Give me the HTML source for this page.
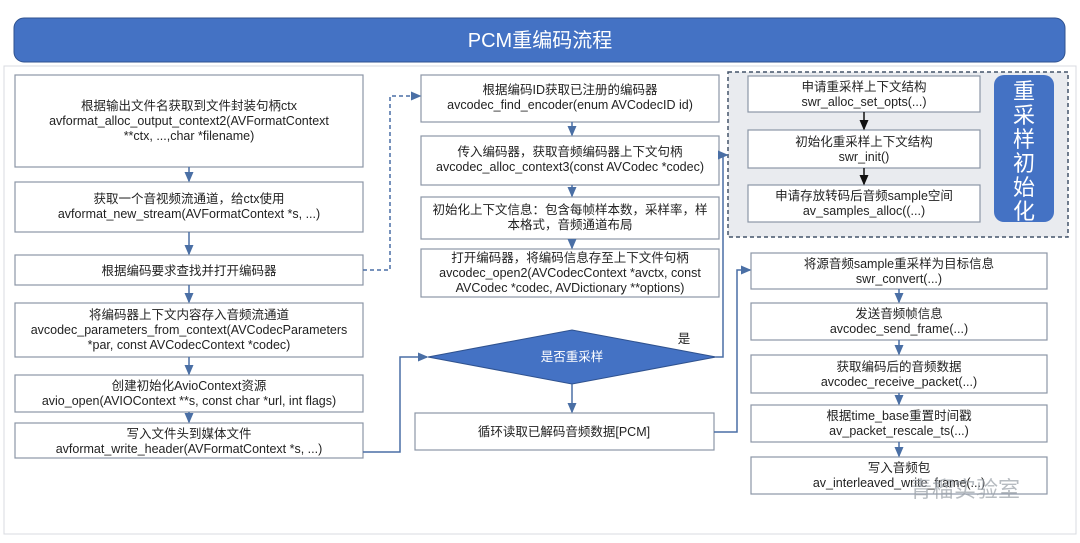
<!DOCTYPE html>
<html><head><meta charset="utf-8"><style>
body{margin:0;background:#fff;width:1080px;height:538px;overflow:hidden}
svg text{font-family:"Liberation Sans","Noto Sans CJK SC",sans-serif;font-size:12.5px;fill:#222;text-anchor:middle}
svg text.v{font-size:22px;fill:#fff}
</style></head><body>
<svg width="1080" height="538" viewBox="0 0 1080 538">
<defs><marker id="a" markerWidth="8" markerHeight="8" refX="6" refY="4" orient="auto"><path d="M0,1 L7,4 L0,7 z" fill="#4a6fa5"/></marker>
<marker id="k" markerWidth="8" markerHeight="8" refX="6" refY="4" orient="auto"><path d="M0,1 L7,4 L0,7 z" fill="#111"/></marker></defs>
<rect x="4" y="66" width="1072" height="468" fill="none" stroke="#d8dbe0"/>
<rect x="14" y="18" width="1051" height="44" rx="10" fill="#4472c4" stroke="#2f528f"/>
<text x="540" y="47" style="font-size:20px;fill:#fff">PCM重编码流程</text>
<g fill="#fff" stroke="#8c96a6" stroke-width="1.2">
<rect x="15" y="75" width="348" height="92"/><rect x="15" y="182" width="348" height="50"/>
<rect x="15" y="255" width="348" height="30"/><rect x="15" y="303" width="348" height="54"/>
<rect x="15" y="375" width="348" height="37"/><rect x="15" y="423" width="348" height="35"/>
<rect x="421" y="75" width="298" height="47"/><rect x="421" y="136" width="298" height="49"/>
<rect x="421" y="197" width="298" height="42"/><rect x="421" y="249" width="298" height="48"/>
<rect x="415" y="413" width="299" height="37"/>
</g>
<rect x="728" y="72" width="340" height="165" fill="#e9ebef" stroke="#44546a" stroke-dasharray="4,3" stroke-width="1.5"/>
<g fill="#fff" stroke="#8c96a6" stroke-width="1.2">
<rect x="748" y="76" width="232" height="36"/><rect x="748" y="130" width="232" height="38"/><rect x="748" y="185" width="232" height="37"/>
<rect x="751" y="253" width="296" height="36"/><rect x="751" y="303" width="296" height="37"/><rect x="751" y="355" width="296" height="38"/>
<rect x="751" y="405" width="296" height="37"/><rect x="751" y="457" width="296" height="37"/>
</g>
<rect x="994" y="75" width="60" height="147" rx="10" fill="#4472c4"/>
<text class="v" x="1024" y="99">重</text><text class="v" x="1024" y="123">采</text><text class="v" x="1024" y="147">样</text><text class="v" x="1024" y="171">初</text><text class="v" x="1024" y="195">始</text><text class="v" x="1024" y="219">化</text>
<polygon points="428,357 572,330 716,357 572,384" fill="#4472c4" stroke="#2f528f"/>
<text x="572" y="361" style="fill:#fff">是否重采样</text>
<text x="684" y="343">是</text>
<g stroke="#4a6fa5" stroke-width="1.5" fill="none" marker-end="url(#a)">
<line x1="189" y1="167" x2="189" y2="181"/><line x1="189" y1="232" x2="189" y2="254"/>
<line x1="189" y1="285" x2="189" y2="302"/><line x1="189" y1="357" x2="189" y2="374"/>
<line x1="189" y1="412" x2="189" y2="422"/>
<line x1="572" y1="122" x2="572" y2="135"/><line x1="572" y1="185" x2="572" y2="196"/>
<line x1="572" y1="239" x2="572" y2="248"/><line x1="572" y1="384" x2="572" y2="412"/>
<line x1="899" y1="289" x2="899" y2="302"/><line x1="899" y1="340" x2="899" y2="354"/>
<line x1="899" y1="393" x2="899" y2="404"/><line x1="899" y1="442" x2="899" y2="456"/>
<polyline points="363,270 390,270 390,96 420,96" stroke-dasharray="4,3"/>
<polyline points="363,452 400,452 400,357 427,357"/>
<polyline points="716,357 723,357 723,155 727,155"/>
<polyline points="714,432 737,432 737,270 750,270"/>
</g>
<g stroke="#111" stroke-width="1.5" marker-end="url(#k)"><line x1="864" y1="112" x2="864" y2="129"/><line x1="864" y1="168" x2="864" y2="184"/></g>
<text x="189" y="110">根据输出文件名获取到文件封装句柄ctx</text>
<text x="189" y="125">avformat_alloc_output_context2(AVFormatContext</text>
<text x="189" y="140">**ctx, ...,char *filename)</text>
<text x="189" y="203">获取一个音视频流通道，给ctx使用</text>
<text x="189" y="218">avformat_new_stream(AVFormatContext *s, ...)</text>
<text x="189" y="275">根据编码要求查找并打开编码器</text>
<text x="189" y="319">将编码器上下文内容存入音频流通道</text>
<text x="189" y="334">avcodec_parameters_from_context(AVCodecParameters</text>
<text x="189" y="349">*par, const AVCodecContext *codec)</text>
<text x="189" y="390">创建初始化AvioContext资源</text>
<text x="189" y="405">avio_open(AVIOContext **s, const char *url, int flags)</text>
<text x="189" y="438">写入文件头到媒体文件</text>
<text x="189" y="453">avformat_write_header(AVFormatContext *s, ...)</text>
<text x="570" y="94">根据编码ID获取已注册的编码器</text>
<text x="570" y="109">avcodec_find_encoder(enum AVCodecID id)</text>
<text x="570" y="156">传入编码器，获取音频编码器上下文句柄</text>
<text x="570" y="171">avcodec_alloc_context3(const AVCodec *codec)</text>
<text x="570" y="214">初始化上下文信息：包含每帧样本数，采样率，样</text>
<text x="570" y="229">本格式，音频通道布局</text>
<text x="570" y="262">打开编码器，将编码信息存至上下文件句柄</text>
<text x="570" y="277">avcodec_open2(AVCodecContext *avctx, const</text>
<text x="570" y="292">AVCodec *codec, AVDictionary **options)</text>
<text x="564" y="436">循环读取已解码音频数据[PCM]</text>
<text x="864" y="91">申请重采样上下文结构</text><text x="864" y="106">swr_alloc_set_opts(...)</text>
<text x="864" y="146">初始化重采样上下文结构</text><text x="864" y="161">swr_init()</text>
<text x="864" y="200">申请存放转码后音频sample空间</text><text x="864" y="215">av_samples_alloc((...)</text>
<text x="899" y="268">将源音频sample重采样为目标信息</text><text x="899" y="283">swr_convert(...)</text>
<text x="899" y="318">发送音频帧信息</text><text x="899" y="333">avcodec_send_frame(...)</text>
<text x="899" y="371">获取编码后的音频数据</text><text x="899" y="386">avcodec_receive_packet(...)</text>
<text x="899" y="420">根据time_base重置时间戳</text><text x="899" y="435">av_packet_rescale_ts(...)</text>
<text x="899" y="472">写入音频包</text><text x="899" y="487">av_interleaved_write_frame(...)</text>
<text x="965" y="497" style="font-size:22px;fill:#9aa0a8;opacity:.7">青榴实验室</text>
</svg>
</body></html>
